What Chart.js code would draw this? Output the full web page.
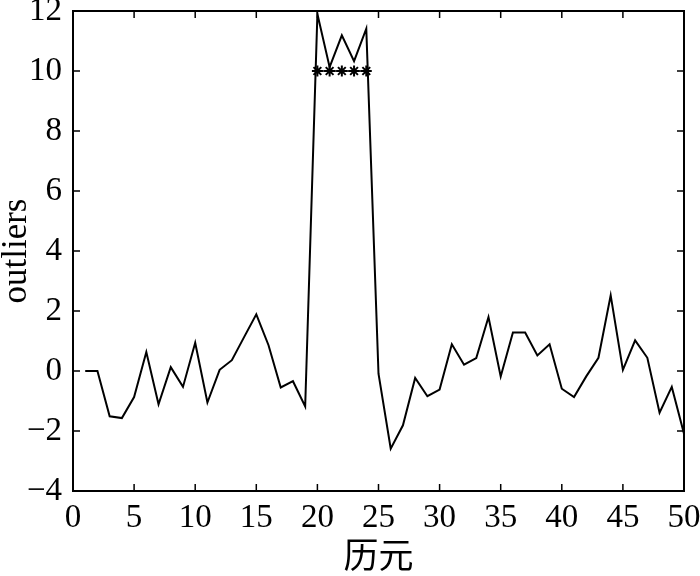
<!DOCTYPE html>
<html>
<head>
<meta charset="utf-8">
<script src="https://cdn.jsdelivr.net/npm/chart.js@4/dist/chart.umd.min.js"></script>
<style>
html,body{margin:0;padding:0;background:#fff;}
#wrap{width:700px;height:576px;}
</style>
</head>
<body>
<div id="wrap"><canvas id="c" width="700" height="576"></canvas></div>
<script>
const epochs = [1,2,3,4,5,6,7,8,9,10,11,12,13,14,15,16,17,18,19,20,21,22,23,24,25,26,27,28,29,30,31,32,33,34,35,36,37,38,39,40,41,42,43,44,45,46,47,48,49,50];
const outliers = [0,0,-1.51,-1.57,-0.87,0.63,-1.11,0.13,-0.53,0.94,-1.05,0.04,0.36,1.13,1.89,0.86,-0.55,-0.34,-1.18,11.9,10.13,11.19,10.33,11.41,-0.09,-2.59,-1.81,-0.23,-0.84,-0.62,0.89,0.21,0.43,1.8,-0.18,1.28,1.28,0.52,0.89,-0.59,-0.87,-0.18,0.44,2.52,0.04,1.02,0.44,-1.39,-0.53,-2.09];
const markedEpochs = [20,21,22,23,24];
const markedValues = [10,10,10,10,10];
const xTicks = [0,5,10,15,20,25,30,35,40,45,50];
const yTicks = [-4,-2,0,2,4,6,8,10,12];

const serif = "'Liberation Serif','DejaVu Serif',serif";

const framePlugin = {
  id: 'frame',
  afterDatasetsDraw(chart) {
    const {ctx, chartArea: a, scales: {x, y}} = chart;
    ctx.save();
    ctx.strokeStyle = '#000';
    ctx.lineWidth = 2;
    ctx.strokeRect(a.left, a.top, a.right - a.left, a.bottom - a.top);
    ctx.lineWidth = 1.5;
    const L = 7;
    ctx.beginPath();
    xTicks.forEach(v => {
      const px = x.getPixelForValue(v);
      ctx.moveTo(px, a.bottom); ctx.lineTo(px, a.bottom - L);
      ctx.moveTo(px, a.top); ctx.lineTo(px, a.top + L);
    });
    yTicks.forEach(v => {
      const py = y.getPixelForValue(v);
      ctx.moveTo(a.left, py); ctx.lineTo(a.left + L, py);
      ctx.moveTo(a.right, py); ctx.lineTo(a.right - L, py);
    });
    ctx.stroke();
    ctx.restore();
  }
};

function noPad(s) { s.paddingTop = 0; s.paddingBottom = 0; s.paddingLeft = 0; s.paddingRight = 0; }

new Chart(document.getElementById('c'), {
  type: 'scatter',
  data: {
    datasets: [
      {
        data: epochs.map((e, i) => ({x: e, y: outliers[i]})),
        showLine: true,
        borderColor: '#000',
        borderWidth: 2,
        pointRadius: 0,
        tension: 0,
        order: 2
      },
      {
        data: markedEpochs.map((e, i) => ({x: e, y: markedValues[i]})),
        showLine: true,
        borderColor: '#000',
        borderWidth: 1.5,
        pointStyle: 'star',
        pointRadius: 5.5,
        pointBorderColor: '#000',
        pointBorderWidth: 2,
        pointBackgroundColor: '#000',
        order: 1
      }
    ]
  },
  options: {
    responsive: false,
    animation: false,
    devicePixelRatio: 1,
    layout: {padding: {left: 0, right: 16, top: 11, bottom: 0}},
    plugins: {legend: {display: false}, tooltip: {enabled: false}},
    scales: {
      x: {
        type: 'linear', min: 0, max: 50,
        afterBuildTicks: s => { s.ticks = xTicks.map(v => ({value: v})); },
        afterFit: s => { s.height = 85; noPad(s); },
        grid: {display: false, drawTicks: false},
        border: {display: false},
        ticks: {color: '#000', font: {family: serif, size: 33}, padding: 8, maxRotation: 0, autoSkip: false},
        title: {display: true, text: '历元', color: '#000', font: {family: "'Noto Sans CJK SC',sans-serif", size: 35}, padding: {top: 0, bottom: 0}}
      },
      y: {
        type: 'linear', min: -4, max: 12,
        afterBuildTicks: s => { s.ticks = yTicks.map(v => ({value: v})); },
        afterFit: s => { s.width = 73; noPad(s); },
        grid: {display: false, drawTicks: false},
        border: {display: false},
        ticks: {color: '#000', font: {family: serif, size: 33}, padding: 11, autoSkip: false,
          callback: v => (v < 0 ? '\u2212' + Math.abs(v) : String(v))},
        title: {display: true, text: 'outliers', color: '#000', font: {family: serif, size: 35}, padding: {top: -4, bottom: 0}}
      }
    }
  },
  plugins: [framePlugin]
});
</script>
</body>
</html>
